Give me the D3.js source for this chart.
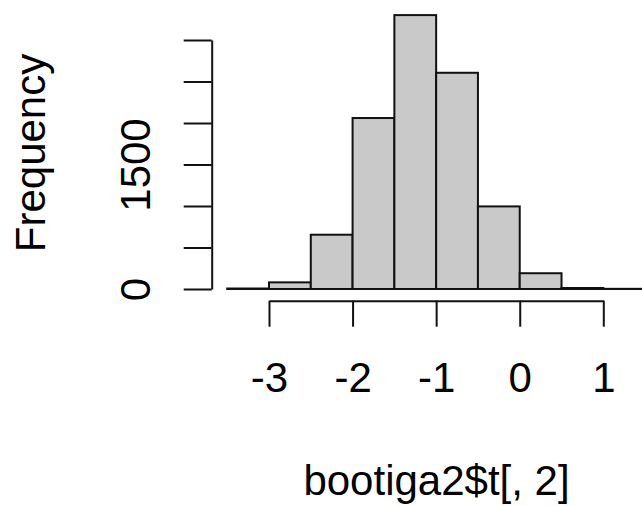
<!DOCTYPE html>
<html>
<head>
<meta charset="utf-8">
<script src="https://cdn.jsdelivr.net/npm/d3@7"></script>
<style>
  body { margin: 0; background: #fff; }
  svg { display: block; }
  text { font-family: "Liberation Sans", Arial, sans-serif; fill: #000; }
</style>
</head>
<body>
<svg id="chart" width="642" height="506"></svg>
<script>
// histogram data
const breaks = [-3.5, -3, -2.5, -2, -1.5, -1, -0.5, 0, 0.5, 1, 1.5];
const counts = [6, 80, 654, 2060, 3300, 2605, 995, 190, 12, 2];
const xTicks = [-3, -2, -1, 0, 1];
const yTicks = [0, 500, 1000, 1500, 2000, 2500, 3000];
const yLabels = [0, 1500];

const bins = counts.map((c, i) => ({ x0: breaks[i], x1: breaks[i + 1], n: c }));

const svg = d3.select("#chart");

const x = d3.scaleLinear().domain([-3, 1]).range([269, 603.3]);
const y = d3.scaleLinear().domain([0, 3000]).range([289, 40]);

// bars
svg.append("g")
  .selectAll("rect")
  .data(bins)
  .enter().append("rect")
  .attr("x", d => x(d.x0))
  .attr("y", d => y(d.n))
  .attr("width", d => x(d.x1) - x(d.x0))
  .attr("height", d => y(0) - y(d.n))
  .attr("fill", "#c9c9c9")
  .attr("stroke", "#111")
  .attr("stroke-width", 2);

// y axis
const yAxis = svg.append("g")
  .attr("transform", "translate(211.7,0)")
  .call(d3.axisLeft(y)
    .tickValues(yTicks)
    .tickSize(28)
    .tickSizeOuter(0)
    .tickFormat(d => yLabels.includes(d) ? d : ""));

// x axis
const xAxis = svg.append("g")
  .attr("transform", "translate(0,300.7)")
  .call(d3.axisBottom(x)
    .tickValues(xTicks)
    .tickSize(26)
    .tickSizeOuter(0)
    .tickFormat(d => d < 0 ? "-" + Math.abs(d) : d));

[yAxis, xAxis].forEach(g => {
  g.select(".domain").attr("stroke", "#111").attr("stroke-width", 2);
  g.selectAll(".tick line").attr("stroke", "#111").attr("stroke-width", 2);
  g.selectAll("text").attr("font-size", 42).attr("fill", "#000")
    .attr("font-family", "Liberation Sans, Arial, sans-serif");
});

yAxis.selectAll(".tick text")
  .attr("transform", "rotate(-90)")
  .attr("text-anchor", "middle")
  .attr("x", 0)
  .attr("y", -62)
  .attr("dy", 0);

xAxis.selectAll(".tick text")
  .attr("y", 91)
  .attr("dy", 0);

// axis titles
svg.append("text")
  .attr("transform", "translate(45,153) rotate(-90)")
  .attr("text-anchor", "middle")
  .attr("font-size", 42)
  .text("Frequency");

svg.append("text")
  .attr("x", 436.5)
  .attr("y", 495)
  .attr("text-anchor", "middle")
  .attr("font-size", 42)
  .text("bootiga2$t[, 2]");
</script>
</body>
</html>
